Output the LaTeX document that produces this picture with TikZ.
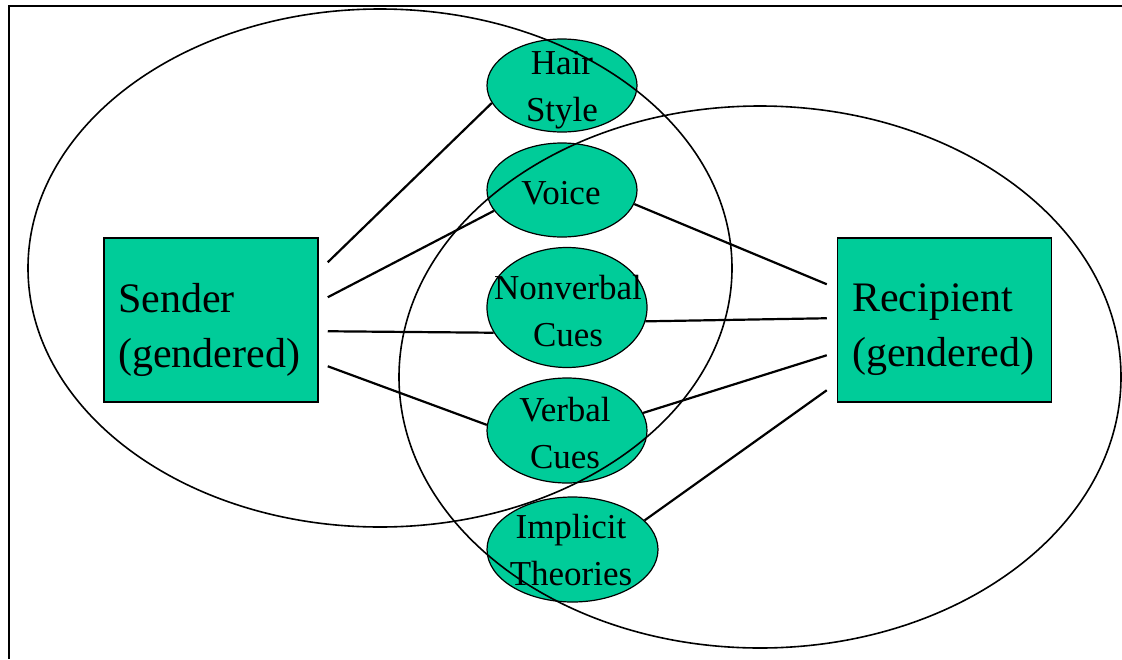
\documentclass[tikz,border=0pt]{standalone}
\usepackage{fontspec}
\setmainfont{Liberation Serif}
\usepackage{tikz}
\usetikzlibrary{shapes.geometric}
\usetikzlibrary{calc}

\definecolor{cuegreen}{RGB}{0,204,153}

\begin{document}
\begin{tikzpicture}[x=1pt,y=-1pt,
    party/.style={draw,fill=cuegreen,line width=1.5pt,minimum width=214pt,minimum height=164pt},
    partytext/.style={align=left,inner sep=0pt,anchor=west,font=\fontsize{42}{55}\selectfont},
    cue/.style={ellipse,draw,fill=cuegreen,line width=1.2pt,inner sep=0pt},
    cuetext/.style={align=center,inner sep=0pt,font=\fontsize{35}{46.5}\selectfont},
    link/.style={line width=2.2pt},
    overlap/.style={line width=1.6pt}]
  \useasboundingbox (0,0) rectangle (1122,659);
  \draw[line width=2pt] (1122,6) -- (9,6) -- (9,659); % frame

  \node[party] (sender)    at (211,320)   {};
  \node[party] (recipient) at (944.5,320) {};

  \node[cue,minimum width=150pt,minimum height=93pt]  (hair)      at (562,85.5)   {};
  \node[cue,minimum width=150pt,minimum height=94pt]  (voice)     at (562,190)    {};
  \node[cue,minimum width=160pt,minimum height=120pt] (nonverbal) at (567,307.5)  {};
  \node[cue,minimum width=160pt,minimum height=105pt] (verbal)    at (567,430.5)  {};
  \node[cue,minimum width=171pt,minimum height=105pt] (implicit)  at (572.5,549.5){};

  % the two overlapping sets
  \draw[overlap] (380,268) ellipse [x radius=352,y radius=259];
  \draw[overlap] (760,377) ellipse [x radius=361,y radius=271];

  \node[partytext] (sendertext)    at (118,330) {Sender\\(gendered)};
  \node[partytext] (recipienttext) at (852,330) {Recipient\\(gendered)};

  \node[cuetext] (hairtext)      at (562,90)  {Hair\\Style};
  \node[cuetext] (voicetext)     at (561,193) {Voice};
  \node[cuetext] (nonverbaltext) at (568,311) {Nonverbal\\Cues};
  \node[cuetext] (verbaltext)    at (565,433) {Verbal\\Cues};
  \node[cuetext] (implicittext)  at (571,550) {Implicit\\Theories};

  \coordinate (s1) at ($(sender.north east)+(9,25)$);
  \coordinate (s2) at ($(sender.north east)+(9,60)$);
  \coordinate (s3) at ($(sender.north east)+(9,94)$);
  \coordinate (s4) at ($(sender.north east)+(9,129)$);
  \coordinate (r1) at ($(recipient.north west)+(-10,47)$);
  \coordinate (r2) at ($(recipient.north west)+(-10,81)$);
  \coordinate (r3) at ($(recipient.north west)+(-10,118)$);
  \coordinate (r4) at ($(recipient.north west)+(-10,153)$);

  \path[link]
    (s1) edge (hair.194)
    (s2) edge (voice.197)
    (s3) edge (nonverbal.199)
    (s4) edge (verbal.176)
    (voice.-11)     edge (r1)
    (nonverbal.-10) edge (r2)
    (verbal.13)     edge (r3)
    (implicit.22)   edge (r4);
\end{tikzpicture}
\end{document}
